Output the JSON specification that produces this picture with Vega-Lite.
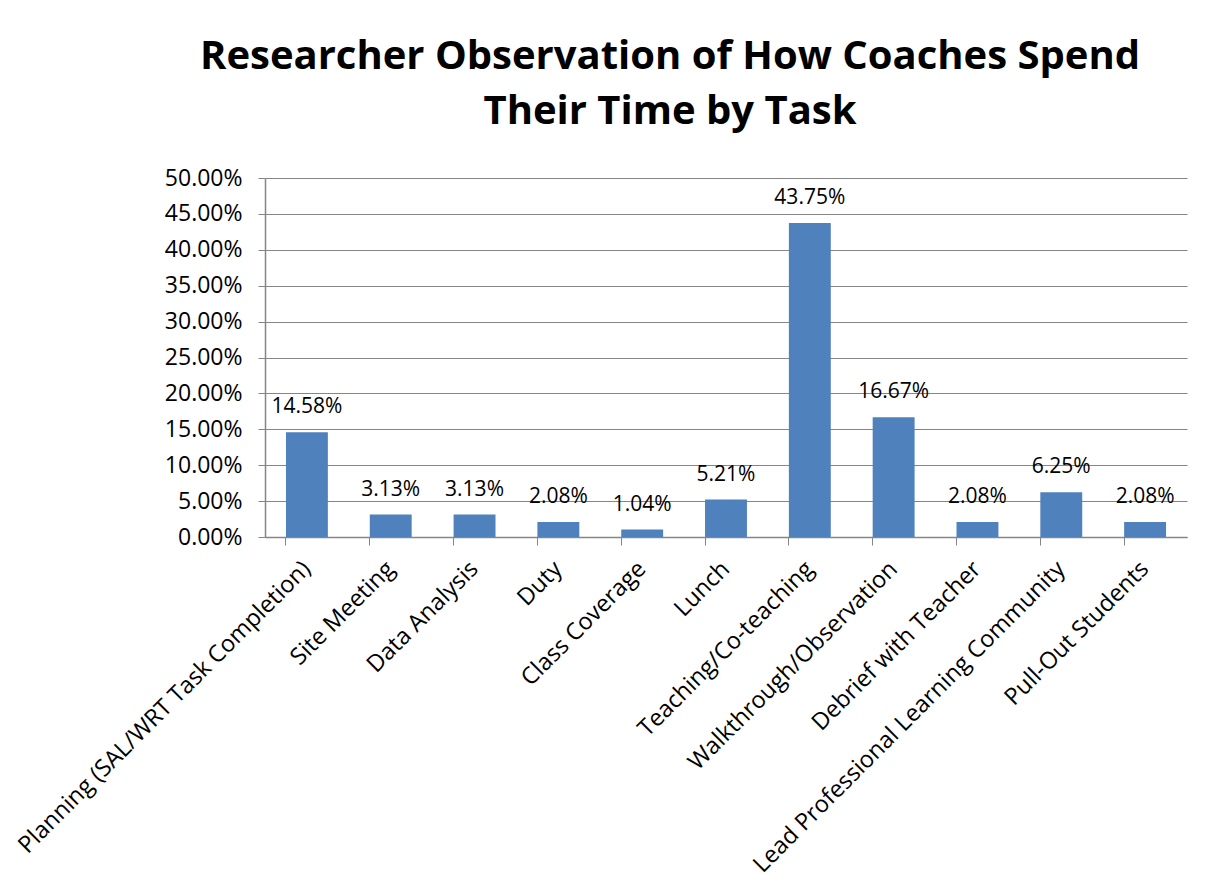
{
  "$schema": "https://vega.github.io/schema/vega-lite/v6.json",
  "width": 922,
  "height": 359,
  "autosize": {"type": "none"},
  "padding": {"left": 265, "top": 178, "right": 20, "bottom": 349},
  "background": "white",
  "title": {
    "text": ["Researcher Observation of How Coaches Spend", "Their Time by Task"],
    "font": "Open Sans",
    "fontSize": 40,
    "fontWeight": "bold",
    "color": "#000000",
    "lineHeight": 55,
    "anchor": "middle",
    "frame": "group",
    "dx": -56,
    "offset": 35
  },
  "data": {
    "values": [
      {"task": "Planning (SAL/WRT Task Completion)", "pct": 0.1458},
      {"task": "Site Meeting", "pct": 0.0313},
      {"task": "Data Analysis", "pct": 0.0313},
      {"task": "Duty", "pct": 0.0208},
      {"task": "Class Coverage", "pct": 0.0104},
      {"task": "Lunch", "pct": 0.0521},
      {"task": "Teaching/Co-teaching", "pct": 0.4375},
      {"task": "Walkthrough/Observation", "pct": 0.1667},
      {"task": "Debrief with Teacher", "pct": 0.0208},
      {"task": "Lead Professional Learning Community", "pct": 0.0625},
      {"task": "Pull-Out Students", "pct": 0.0208}
    ]
  },
  "encoding": {
    "x": {
      "field": "task",
      "type": "nominal",
      "sort": null,
      "title": null,
      "scale": {"paddingInner": 0.5, "paddingOuter": 0.25},
      "axis": {
        "labelAngle": -45,
        "labelAlign": "right",
        "labelBaseline": "middle",
        "labelFont": "Open Sans",
        "labelFontSize": 23.5,
        "labelColor": "#000000",
        "labelPadding": 20,
        "labelLimit": 600,
        "bandPosition": 0,
        "tickColor": "#868686",
        "tickSize": 8,
        "domainColor": "#868686",
        "domainWidth": 1.5,
        "grid": false
      }
    },
    "y": {
      "field": "pct",
      "type": "quantitative",
      "title": null,
      "scale": {"domain": [0, 0.5], "nice": false},
      "axis": {
        "format": ".2%",
        "values": [0, 0.05, 0.1, 0.15, 0.2, 0.25, 0.3, 0.35, 0.4, 0.45, 0.5],
        "labelFont": "Open Sans",
        "labelFontSize": 23,
        "labelColor": "#000000",
        "labelPadding": 16,
        "tickColor": "#868686",
        "tickSize": 7,
        "domainColor": "#868686",
        "domainWidth": 1.5,
        "gridColor": "#868686",
        "gridWidth": 1.2
      }
    }
  },
  "layer": [
    {"mark": {"type": "bar", "color": "#4F81BD"}},
    {
      "mark": {"type": "text", "font": "Open Sans", "fontSize": 21, "color": "#000000", "baseline": "middle", "dy": -25},
      "encoding": {"text": {"field": "pct", "type": "quantitative", "format": ".2%"}}
    }
  ],
  "config": {"view": {"stroke": null}}
}
